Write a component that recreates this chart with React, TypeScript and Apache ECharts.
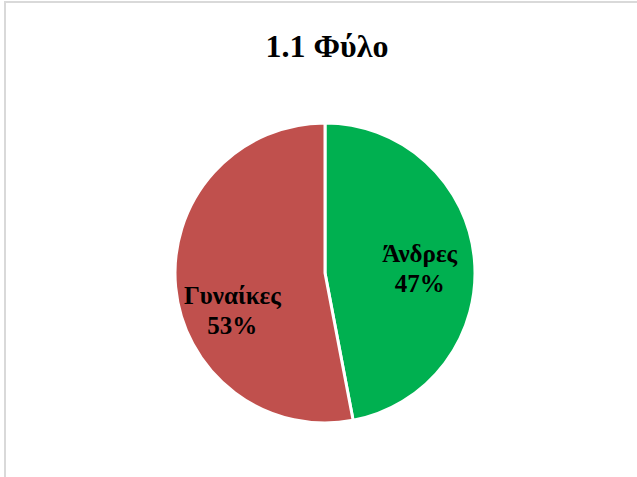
import React, { useEffect, useRef } from "react";
import * as echarts from "echarts";

const titleText = "1.1 Φύλο";
const categories = ["Άνδρες", "Γυναίκες"];
const values = [47, 53];
const colors = ["#00B050", "#C0504D"];
const labelOffsets: [number, number][] = [[17, 3], [-15, 30]];

export default function App() {
  const ref = useRef<HTMLDivElement>(null);
  useEffect(() => {
    if (!ref.current) return;
    const chart = echarts.init(ref.current, undefined, { renderer: "svg" });
    chart.setOption({
      animation: false,
      backgroundColor: "#ffffff",
      title: {
        text: titleText,
        left: 322,
        textAlign: "center",
        top: 25,
        textStyle: {
          fontFamily: "Liberation Serif",
          fontWeight: "bold",
          fontSize: 32,
          color: "#000000",
        },
      },
      graphic: [
        {
          type: "rect",
          shape: { x: 5, y: 2, width: 700, height: 600 },
          style: { fill: "none", stroke: "#d9d9d9", lineWidth: 2 },
          silent: true,
        },
      ],
      series: [
        {
          type: "pie",
          center: [325, 273],
          radius: [0, 150],
          startAngle: 90,
          clockwise: true,
          avoidLabelOverlap: false,
          itemStyle: { borderColor: "#ffffff", borderWidth: 3 },
          label: {
            show: true,
            position: "inside",
            formatter: "{b}\n{d}%",
            fontFamily: "Liberation Serif",
            fontWeight: "bold",
            fontSize: 25,
            lineHeight: 30,
            color: "#000000",
          },
          labelLine: { show: false },
          data: categories.map((c, i) => ({
            name: c,
            value: values[i],
            itemStyle: { color: colors[i] },
            label: { offset: labelOffsets[i] },
          })),
        },
      ],
    });
    return () => chart.dispose();
  }, []);
  return (
    <div
      ref={ref}
      style={{ position: "fixed", left: 0, top: 0, width: 637, height: 477 }}
    />
  );
}
